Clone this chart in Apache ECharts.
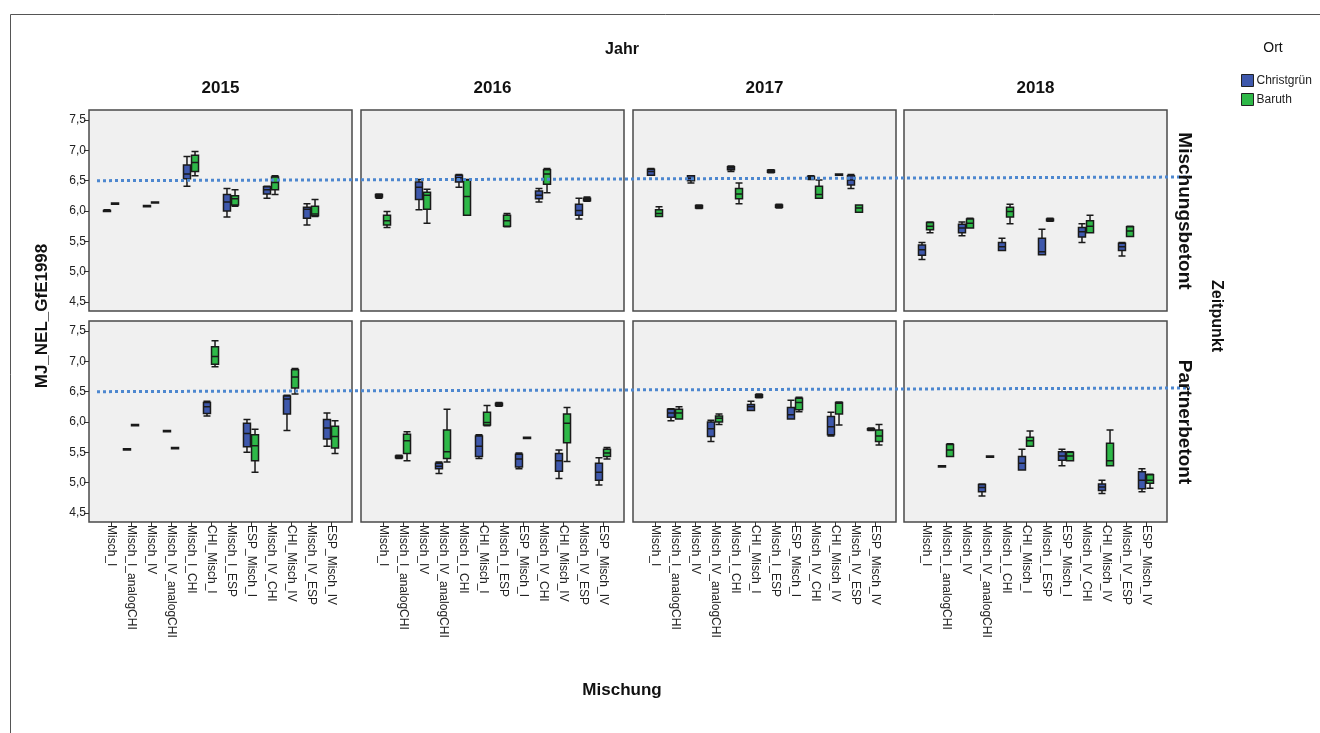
<!DOCTYPE html>
<html><head><meta charset="utf-8">
<script src="https://cdn.jsdelivr.net/npm/echarts@6/dist/echarts.min.js"></script>
<style>html,body{margin:0;padding:0;background:#fff}#c{width:1320px;height:733px}</style>
</head><body><div id="c"></div>
<script>
// ---------------- data ----------------
const categories = ['Misch_I','Misch_I_analogCHI','Misch_IV','Misch_IV_analogCHI','Misch_I_CHI','CHI_Misch_I','Misch_I_ESP','ESP_Misch_I','Misch_IV_CHI','CHI_Misch_IV','Misch_IV_ESP','ESP_Misch_IV'];
const years = ['2015','2016','2017','2018'];
const rowLabels = ['Mischungsbetont','Partnerbetont'];
const locations = ['Christgrün','Baruth'];
const yTicks = [4.5, 5.0, 5.5, 6.0, 6.5, 7.0, 7.5];
const refLine = [6.5, 6.56];
const _ = null;
// each entry: [min, Q1, median, Q3, max]
const chr2015M = [[5.99,5.99,6.00,6.01,6.02],_,[6.07,6.07,6.08,6.09,6.09],_,[6.41,6.53,6.61,6.76,6.90],_,[5.90,6.00,6.15,6.27,6.37],_,[6.21,6.28,6.35,6.40,6.41],_,[5.77,5.88,6.03,6.06,6.12],_];
const bar2015M = [[6.11,6.11,6.12,6.13,6.13],_,[6.13,6.13,6.14,6.15,6.15],_,[6.58,6.65,6.80,6.92,6.98],_,[6.08,6.10,6.20,6.25,6.35],_,[6.27,6.35,6.47,6.56,6.58],_,[5.91,5.92,5.95,6.08,6.19],_];
const chr2015P = [_,[5.54,5.54,5.55,5.56,5.56],_,[5.84,5.84,5.85,5.86,5.86],_,[6.10,6.14,6.25,6.32,6.34],_,[5.50,5.59,5.81,5.98,6.04],_,[5.86,6.13,6.38,6.43,6.44],_,[5.60,5.72,5.90,6.04,6.15]];
const bar2015P = [_,[5.94,5.94,5.95,5.96,5.96],_,[5.56,5.56,5.57,5.58,5.58],_,[6.91,6.95,7.08,7.24,7.34],_,[5.17,5.36,5.61,5.79,5.88],_,[6.46,6.56,6.74,6.86,6.88],_,[5.48,5.57,5.76,5.93,6.02]];
const chr2016M = [[6.21,6.23,6.25,6.27,6.28],_,[6.02,6.19,6.39,6.48,6.52],_,[6.39,6.48,6.55,6.59,6.60],_,_,_,[6.15,6.20,6.26,6.33,6.37],_,[5.87,5.93,6.01,6.11,6.21],_];
const bar2016M = [[5.73,5.77,5.84,5.93,5.99],_,[5.80,6.03,6.26,6.31,6.36],_,[5.93,5.93,6.24,6.51,6.52],_,[5.74,5.75,5.84,5.93,5.96],_,[6.30,6.44,6.61,6.68,6.70],_,[6.16,6.17,6.19,6.21,6.23],_];
const chr2016P = [_,[5.40,5.41,5.42,5.44,5.45],_,[5.15,5.23,5.27,5.32,5.34],_,[5.40,5.43,5.60,5.77,5.79],[6.26,6.27,6.29,6.31,6.32],[5.23,5.26,5.39,5.47,5.49],_,[5.07,5.19,5.36,5.48,5.54],_,[4.96,5.04,5.17,5.32,5.41]];
const bar2016P = [_,[5.36,5.48,5.69,5.80,5.84],_,[5.34,5.40,5.51,5.87,6.21],_,[5.94,5.95,5.99,6.16,6.27],_,[5.73,5.73,5.74,5.75,5.75],_,[5.35,5.66,5.98,6.13,6.24],_,[5.39,5.43,5.49,5.55,5.58]];
const chr2017M = [[6.59,6.59,6.65,6.69,6.70],_,[6.46,6.50,6.54,6.58,6.58],_,[6.65,6.68,6.71,6.73,6.74],_,[6.63,6.64,6.66,6.67,6.68],_,[6.52,6.53,6.55,6.57,6.58],_,[6.37,6.43,6.51,6.58,6.60],_];
const bar2017M = [[5.91,5.91,5.96,6.02,6.07],_,[6.04,6.05,6.07,6.09,6.10],_,[6.12,6.20,6.28,6.37,6.46],_,[6.05,6.06,6.08,6.10,6.11],_,[6.21,6.21,6.27,6.41,6.51],[6.59,6.59,6.60,6.61,6.61],[5.98,5.98,6.05,6.10,6.10],_];
const chr2017P = [_,[6.02,6.08,6.15,6.21,6.22],_,[5.68,5.76,5.89,6.00,6.03],_,[6.19,6.19,6.25,6.29,6.34],_,[6.05,6.05,6.12,6.24,6.36],_,[5.77,5.79,5.92,6.09,6.16],_,[5.86,5.87,5.88,5.89,5.90]];
const bar2017P = [_,[6.05,6.05,6.15,6.21,6.25],_,[5.96,6.00,6.06,6.10,6.13],_,[6.40,6.41,6.43,6.45,6.46],_,[6.17,6.20,6.32,6.39,6.41],_,[5.95,6.13,6.31,6.32,6.33],_,[5.62,5.68,5.77,5.87,5.96]];
const chr2018M = [[5.20,5.27,5.36,5.44,5.48],_,[5.59,5.64,5.72,5.78,5.82],_,[5.35,5.35,5.41,5.48,5.55],_,[5.28,5.28,5.33,5.55,5.70],_,[5.48,5.57,5.66,5.73,5.79],_,[5.26,5.35,5.41,5.47,5.48],_];
const bar2018M = [[5.64,5.69,5.75,5.81,5.82],_,[5.72,5.72,5.80,5.87,5.88],_,[5.79,5.90,5.99,6.06,6.11],_,[5.83,5.84,5.86,5.87,5.88],_,[5.64,5.64,5.75,5.84,5.93],_,[5.58,5.58,5.67,5.74,5.75],_];
const chr2018P = [_,[5.26,5.26,5.27,5.28,5.28],_,[4.78,4.85,4.92,4.97,4.98],_,[5.21,5.21,5.32,5.43,5.55],_,[5.28,5.37,5.44,5.51,5.55],_,[4.82,4.87,4.93,4.98,5.04],_,[4.85,4.90,5.04,5.18,5.23]];
const bar2018P = [_,[5.43,5.43,5.54,5.63,5.64],_,[5.42,5.42,5.43,5.44,5.44],_,[5.60,5.60,5.69,5.75,5.85],_,[5.36,5.36,5.44,5.50,5.51],_,[5.28,5.28,5.36,5.65,5.87],_,[4.91,4.99,5.04,5.13,5.14]];

const panelData = [
  [[chr2015M,bar2015M],[chr2016M,bar2016M],[chr2017M,bar2017M],[chr2018M,bar2018M]],
  [[chr2015P,bar2015P],[chr2016P,bar2016P],[chr2017P,bar2017P],[chr2018P,bar2018P]]
];

// ---------------- layout ----------------
const FONT = 'Arial, "Liberation Sans", sans-serif';
const colLeft = [89, 361, 633, 904];
const rowTop = [110, 321];
const PW = 263, PH = 201;
const IN_L = 12, IN_T = 10, IN_W = 240, IN_H = 182;
const colors = ['#3E58AC', '#2EB848'];

const grid = [], xAxis = [], yAxis = [], series = [], graphics = [];
const toBox = arr => arr.map(v => v ? v : ['-','-','-','-','-']);

graphics.push({type:'rect', z:-20, shape:{x:10.5,y:14.5,width:1400,height:800}, style:{fill:'none',stroke:'#555',lineWidth:1}});

for (let r = 0; r < 2; r++) {
  for (let c = 0; c < 4; c++) {
    const p = r * 4 + c;
    graphics.push({type:'rect', z:-10, shape:{x:colLeft[c], y:rowTop[r], width:PW, height:PH},
      style:{fill:'#f0f0f0', stroke:'#4a4a4a', lineWidth:1.5}});
    grid.push({left: colLeft[c] + IN_L, top: rowTop[r] + IN_T, width: IN_W, height: IN_H});
    xAxis.push({type:'category', gridIndex:p, data:categories, offset: PH - IN_T - IN_H,
      axisLine:{show:false}, splitLine:{show:false},
      axisTick:{show: r === 1, alignWithLabel:true, length:5, lineStyle:{color:'#333', width:1}},
      axisLabel:{show: r === 1, rotate:-90, interval:0, fontSize:12, color:'#222', margin:3, fontFamily:FONT}});
    yAxis.push({type:'value', gridIndex:p, min:yTicks[0], max:yTicks[yTicks.length-1], interval:0.5, offset: IN_L,
      axisLine:{show:false}, splitLine:{show:false},
      axisTick:{show: c === 0, length:5, lineStyle:{color:'#333', width:1}},
      axisLabel:{show: c === 0, fontSize:12, color:'#222', margin:3, fontFamily:FONT,
        formatter: v => v.toFixed(1).replace('.', ',')}});
    for (let s = 0; s < 2; s++) {
      series.push({type:'boxplot', name:locations[s], xAxisIndex:p, yAxisIndex:p,
        data: toBox(panelData[r][c][s]), boxWidth:[7,7], silent:true,
        itemStyle:{color:colors[s], borderColor:'#1a1a1a', borderWidth:1.5},
        emphasis:{disabled:true}});
    }
  }
}
// reference dotted lines (overlay grids)
for (let r = 0; r < 2; r++) {
  const gi = grid.length;
  grid.push({left:97, width:1093, top: rowTop[r] + IN_T, height: IN_H});
  xAxis.push({type:'value', gridIndex:gi, min:0, max:1, show:false});
  yAxis.push({type:'value', gridIndex:gi, min:yTicks[0], max:yTicks[yTicks.length-1], show:false});
  series.push({type:'line', xAxisIndex:gi, yAxisIndex:gi, data:[[0, refLine[0]],[1, refLine[1]]],
    symbol:'none', silent:true, z:5, lineStyle:{color:'#4d87cf', width:3, type:[3,3], cap:'butt'}});
}

const txt = (text, x, y, size, bold, rot) => ({type:'text', z:10, x, y, rotation: rot || 0,
  style:{text, fill:'#111', font:(bold?'bold ':'') + size + 'px ' + FONT, align:'center', verticalAlign:'middle'}});
graphics.push(txt('Jahr', 622, 50, 16, true));
years.forEach((y, c) => graphics.push(txt(y, colLeft[c] + PW / 2, 88, 17, true)));
graphics.push(txt(rowLabels[0], 1184, 211, 19, true, -Math.PI/2));
graphics.push(txt(rowLabels[1], 1184, 422, 19, true, -Math.PI/2));
graphics.push(txt('Zeitpunkt', 1216, 316, 16, true, -Math.PI/2));
graphics.push(txt('MJ_NEL_GfE1998', 42, 316, 17, true, Math.PI/2));
graphics.push(txt('Mischung', 622, 690, 17, true));
graphics.push(txt('Ort', 1273, 48, 14, false));

const chart = echarts.init(document.getElementById('c'), null, {renderer:'canvas'});
chart.setOption({
  animation:false,
  backgroundColor:'#fff',
  textStyle:{fontFamily:FONT},
  grid, xAxis, yAxis, series,
  legend:{
    data: locations.map((n, i) => ({name:n, icon:'rect', itemStyle:{color:colors[i], borderColor:'#222', borderWidth:1}})),
    orient:'vertical', left:1236, top:69, itemWidth:12, itemHeight:12, itemGap:6,
    selectedMode:false, textStyle:{fontSize:12, color:'#222', fontFamily:FONT, padding:[0,0,0,-2]}},
  graphic:{elements:graphics}
});
</script></body></html>
